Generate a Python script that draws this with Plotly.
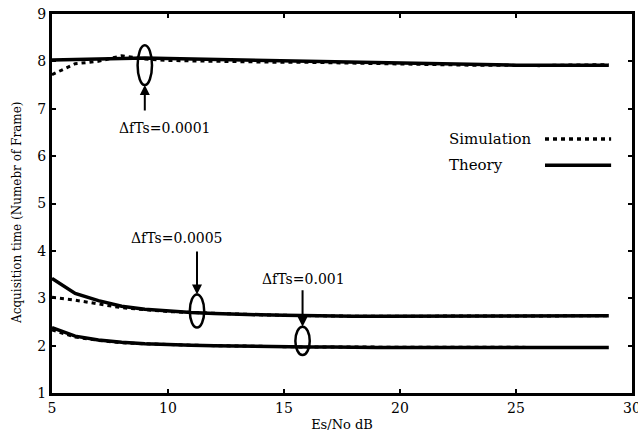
import plotly.graph_objects as go

snr = list(range(5, 30))

theory_00001 = [8.03, 8.04, 8.05, 8.06, 8.07, 8.06, 8.05, 8.04, 8.03, 8.02, 8.01, 8.00, 7.99, 7.98, 7.97, 7.96, 7.95, 7.94, 7.93, 7.93, 7.92, 7.92, 7.92, 7.92, 7.92]
sim_00001 = [7.72, 7.95, 8.00, 8.12, 8.05, 8.02, 8.01, 8.00, 8.00, 7.99, 7.98, 7.98, 7.97, 7.96, 7.95, 7.94, 7.93, 7.93, 7.92, 7.92, 7.91, 7.91, 7.92, 7.92, 7.93]

theory_00005 = [3.42, 3.10, 2.95, 2.83, 2.77, 2.73, 2.70, 2.68, 2.66, 2.65, 2.64, 2.63, 2.63, 2.62, 2.62, 2.62, 2.62, 2.62, 2.62, 2.62, 2.62, 2.62, 2.62, 2.62, 2.63]
sim_00005 = [3.02, 2.96, 2.88, 2.80, 2.76, 2.72, 2.70, 2.68, 2.66, 2.65, 2.64, 2.63, 2.63, 2.62, 2.62, 2.62, 2.62, 2.62, 2.62, 2.62, 2.63, 2.63, 2.63, 2.63, 2.63]

theory_0001 = [2.38, 2.20, 2.12, 2.07, 2.04, 2.02, 2.01, 2.00, 1.99, 1.98, 1.98, 1.97, 1.97, 1.96, 1.96, 1.96, 1.96, 1.96, 1.96, 1.96, 1.96, 1.96, 1.96, 1.96, 1.96]
sim_0001 = [2.33, 2.18, 2.11, 2.06, 2.04, 2.02, 2.01, 2.00, 1.99, 1.98, 1.98, 1.97, 1.97, 1.97, 1.97, 1.96, 1.96, 1.96, 1.96, 1.96, 1.96, 1.96, 1.96, 1.96, 1.96]

# annotation labels and their anchor points (data units)
labels = ["\u0394fTs=0.0001", "\u0394fTs=0.0005", "\u0394fTs=0.001"]
ell_x = [9.0, 11.25, 15.8]
ell_y = [7.92, 2.73, 2.10]
ell_h = [0.42, 0.35, 0.30]
tail_y = [6.93, 4.02, 3.2]
text_x = [9.87, 10.39, 15.82]
text_y = [6.6, 4.27, 3.41]

x_title = "Es/No dB"
y_title = "Acquisition time (Numebr of Frame)"

FONT = "DejaVu Serif"

fig = go.Figure()
for sim, th in [(sim_00001, theory_00001), (sim_00005, theory_00005), (sim_0001, theory_0001)]:
    fig.add_trace(go.Scatter(x=snr, y=sim, mode="lines",
                             line=dict(color="black", width=3, dash="4px,4px"),
                             showlegend=False, hoverinfo="skip"))
    fig.add_trace(go.Scatter(x=snr, y=th, mode="lines",
                             line=dict(color="black", width=3.5),
                             showlegend=False, hoverinfo="skip"))

shapes = []
annotations = []
ew = 0.31
for lab, ex, ey, eh, ty, tx, tyy in zip(labels, ell_x, ell_y, ell_h, tail_y, text_x, text_y):
    shapes.append(dict(type="circle", xref="x", yref="y",
                       x0=ex - ew, x1=ex + ew, y0=ey - eh, y1=ey + eh,
                       line=dict(color="black", width=2.5)))
    up = ty < ey
    annotations.append(dict(x=ex, y=(ey - eh) if up else (ey + eh), ax=ex, ay=ty,
                            xref="x", yref="y", axref="x", ayref="y",
                            showarrow=True, arrowhead=2, arrowsize=1, arrowwidth=2,
                            arrowcolor="black", text=""))
    annotations.append(dict(x=tx, y=tyy, xref="x", yref="y", text=lab,
                            showarrow=False, font=dict(family=FONT, size=14, color="black")))

# legend (text left, line sample right)
leg_text = ["Simulation", "Theory"]
leg_y = [0.670, 0.601]
leg_dash = ["4px,4px", "solid"]
for t, yy, d in zip(leg_text, leg_y, leg_dash):
    annotations.append(dict(x=0.681, y=yy, xref="paper", yref="paper", text=t,
                            showarrow=False, xanchor="left", yanchor="middle",
                            font=dict(family=FONT, size=15, color="black")))
    shapes.append(dict(type="line", xref="paper", yref="paper",
                       x0=0.85, x1=0.964, y0=yy, y1=yy,
                       line=dict(color="black", width=3.5, dash=d)))

# y-axis title (placed as rotated text, slightly below axis centre as in the reference)
annotations.append(dict(x=-0.0603, y=0.475, xref="paper", yref="paper", text=y_title,
                        textangle=-90, showarrow=False, xanchor="center", yanchor="middle",
                        font=dict(family=FONT, size=12, color="black")))

axis_common = dict(showline=True, linecolor="black", linewidth=3, mirror="ticks",
                   ticks="inside", ticklen=4, tickwidth=2, tickcolor="black",
                   showgrid=False, zeroline=False, automargin=False,
                   ticklabeloverflow="allow",
                   tickfont=dict(family=FONT, size=14, color="black"))

fig.update_layout(
    width=638, height=434,
    margin=dict(l=52, r=6, t=14, b=41),
    plot_bgcolor="white", paper_bgcolor="white",
    hovermode=False,
    xaxis=dict(range=[5, 30], tickvals=[5, 10, 15, 20, 25, 30],
               title=dict(text=x_title, font=dict(family=FONT, size=13, color="black"), standoff=6),
               **axis_common),
    yaxis=dict(range=[1, 9], tickvals=list(range(1, 10)), **axis_common),
    shapes=shapes, annotations=annotations,
)

fig.write_html("out.html", config={"displayModeBar": False},
               post_script="document.body.style.margin='0';document.body.style.overflow='hidden';")
